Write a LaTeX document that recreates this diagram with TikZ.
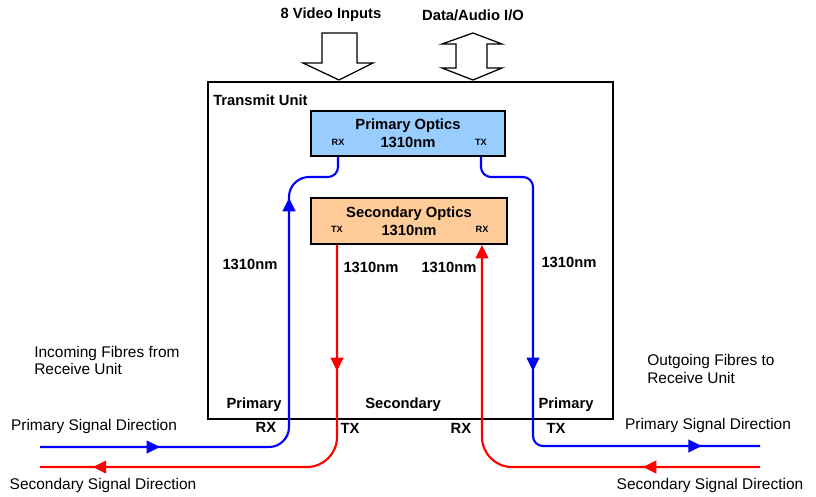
\documentclass[tikz,border=0pt]{standalone}
\usepackage{fontspec}
\setmainfont{Liberation Sans}
\usepackage{xcolor}
\usetikzlibrary{arrows.meta,decorations.markings}
\definecolor{optblue}{HTML}{99CCFF}
\definecolor{optpeach}{HTML}{FFCC99}
\definecolor{fblue}{HTML}{0000FF}
\definecolor{fred}{HTML}{FF0000}

\begin{document}
\begin{tikzpicture}[x=0.025cm,y=-0.025cm,
    every node/.style={align=center,inner sep=0pt,font=\fontsize{11}{12.5}\selectfont},
    blbl/.style={font=\fontsize{10.5}{12.8}\selectfont\bfseries},
    port/.style={font=\fontsize{6.5}{7}\selectfont\bfseries},
    optbox/.style={draw,line width=1.3pt,blbl},
    fibre/.style={line width=1.5pt},
    blockarr/.style={draw,line width=0.9pt,fill=white,line join=miter},
    tip/.style={-{Triangle[length=9.5pt,width=9pt]}},
    onemark/.style={postaction={decorate},decoration={markings,
        mark=at position #1 with {\arrow{Triangle[length=9.5pt,width=9pt]}}}},
    twomarks/.style 2 args={postaction={decorate},decoration={markings,
        mark=at position #1 with {\arrow{Triangle[length=9.5pt,width=9pt]}},
        mark=at position #2 with {\arrow{Triangle[length=9.5pt,width=9pt]}}}}
  ]
  \useasboundingbox (0,0) rectangle (816,496);

  % transmit unit and the two optics
  \node[draw,line width=1.3pt,minimum width=10.125cm,minimum height=8.425cm] (tu) at (410.5,250.5) {};
  \node[blbl,anchor=west] (tutitle) at (213,100) {Transmit Unit};
  \node[optbox,fill=optblue,minimum width=4.85cm,minimum height=1.125cm] (po) at (408,133.5)
    {Primary Optics\\1310nm};
  \node[optbox,fill=optpeach,minimum width=4.9cm,minimum height=1.15cm] (so) at (409,221)
    {Secondary Optics\\1310nm};
  \node[port] (prx) at (338,142) {RX};
  \node[port] (ptx) at (481,142) {TX};
  \node[port] (stx) at (337,229) {TX};
  \node[port] (srx) at (482,229) {RX};

  % inputs on top
  \node[blbl] (vid) at (331,15) {8 Video Inputs};
  \node[blbl] (dat) at (473,15) {Data/Audio I/O};
  \draw[blockarr] (322,33) -- (357,33) -- (357,63) -- (373,63) -- (339,80)
    -- (303,63) -- (322,63) -- cycle;
  \draw[blockarr] (473,33) -- (502,44) -- (487,44) -- (487,68) -- (502,68) -- (473,80)
    -- (442,68) -- (456,68) -- (456,44) -- (442,44) -- cycle;

  % fibres
  \coordinate (inP) at (40,447);
  \coordinate (outS) at (40,467);
  \coordinate (outP) at (760,446);
  \coordinate (inS) at (760,467);
  \draw[fibre,fblue,twomarks={3cm}{12.235cm}] (inP) [rounded corners=0.5cm] -- (289,447)
    -- (289,177) [rounded corners=0.25cm] -- (prx |- 0,177) -- (prx |- po.south);
  \draw[fibre,fblue,twomarks={6.435cm}{12.42cm}] (ptx |- po.south) [rounded corners=0.25cm]
    -- (ptx |- 0,177) -- (533,177) -- (533,446) [rounded corners=0.5cm] -- (outP);
  \draw[fibre,fred,twomarks={3.15cm}{11.33cm},rounded corners=0.75cm] (stx |- so.south)
    -- (stx |- 0,467) -- (outS);
  \draw[fibre,fred,tip,onemark={2.925cm},rounded corners=0.75cm] (inS)
    -- (srx |- 0,467) -- (srx |- so.south);

  % wavelengths
  \node[blbl] (w1) at (250,264) {1310nm};
  \node[blbl] (w2) at (371,267) {1310nm};
  \node[blbl] (w3) at (449,267) {1310nm};
  \node[blbl] (w4) at (569,262) {1310nm};

  % port labels at the bottom of the unit
  \node[blbl] (bp1) at (254,405) {Primary};
  \node[blbl] (bs) at (403,405) {Secondary};
  \node[blbl] (bp2) at (566,405) {Primary};
  \node[blbl] (brx1) at (266,427) {RX};
  \node[blbl] (btx1) at (350,428) {TX};
  \node[blbl] (brx2) at (461,428) {RX};
  \node[blbl] (btx2) at (556,428) {TX};

  % outside texts
  \node[anchor=west,align=left] (inc) at (34,360.5) {Incoming Fibres from\\Receive Unit};
  \node[anchor=west,align=left] (outg) at (647,369) {Outgoing Fibres to\\Receive Unit};
  \node (psl) at (94,426) {Primary Signal Direction};
  \node (ssl) at (103,485) {Secondary Signal Direction};
  \node (psr) at (708,425) {Primary Signal Direction};
  \node (ssr) at (710,485) {Secondary Signal Direction};
\end{tikzpicture}
\end{document}
